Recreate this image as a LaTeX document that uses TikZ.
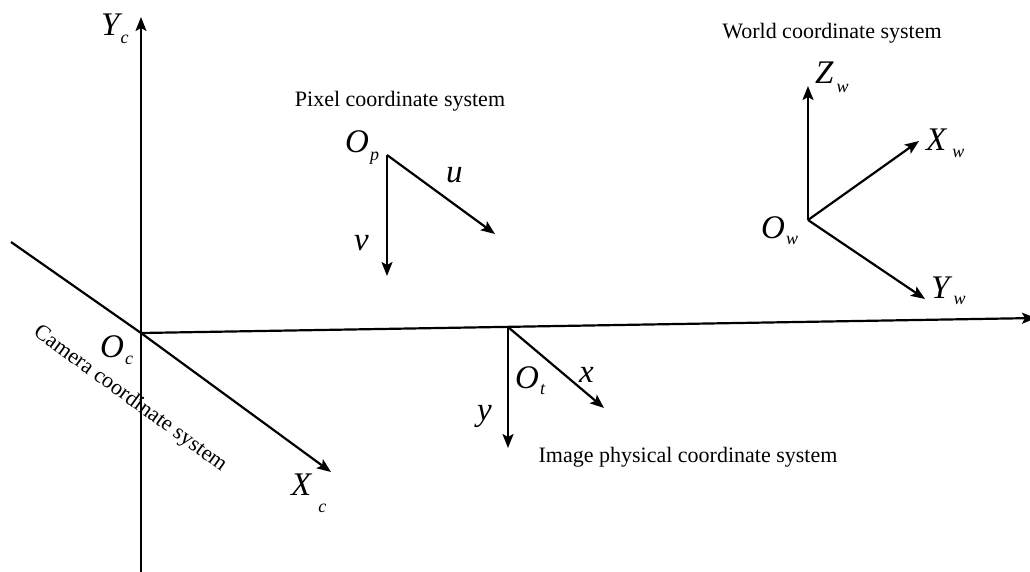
\documentclass[tikz,border=0pt]{standalone}
\usepackage{fontspec}
\setmainfont{Liberation Serif}
\usetikzlibrary{arrows.meta,positioning}
\newcommand{\axsub}[3][9pt]{#2\kern1pt\raisebox{-#1}{\fontsize{18}{18}\selectfont #3}}
\tikzset{
  axis/.style={draw=black, line width=2.2pt, -{Stealth[length=14pt,width=11pt,inset=3pt]}},
  plain/.style={draw=black, line width=2.2pt},
  lbl/.style={font=\fontsize{33}{33}\selectfont\itshape, inner sep=0pt, anchor=base west},
  sysname/.style={font=\fontsize{22}{22}\selectfont, inner sep=0pt},
}
\begin{document}
\begin{tikzpicture}[x=1pt,y=-1pt]
  \useasboundingbox (0,0) rectangle (1030,571);
  % camera frame
  \coordinate (oc) at (141,333);
  \coordinate (yc) at (141,17);
  \coordinate (ycend) at (141,575);
  \coordinate (xc) at (331,472);
  \coordinate (xcend) at (11,242);
  \coordinate (zc) at (1036,318);
  \draw[plain] (oc) -- (ycend);
  \draw[plain] (xcend) -- (oc);
  \draw[axis] (oc) -- (yc);
  \draw[axis] (oc) -- (xc);
  \draw[axis] (oc) -- (zc);
  \node[lbl] (yclbl) at (101,35) {\axsub[8pt]{Y}{c}};
  \node[lbl] (oclbl) at (100,357) {\axsub[7pt]{O}{c}};
  \node[lbl] (xclbl) at (291,495) {\axsub[17pt]{X\kern6pt}{c}};
  \node[sysname, rotate=-36] (camname) at (130,399) {Camera coordinate system};
  % pixel frame
  \coordinate (op) at (387,155);
  \coordinate (pu) at (495,234);
  \coordinate (pv) at (387,276);
  \draw[axis] (op) -- (pu);
  \draw[axis] (op) -- (pv);
  \node[lbl] (oplbl) at (345,152) {\axsub[8pt]{O}{p}};
  \node[lbl] (ulbl) at (446,182) {u};
  \node[lbl] (vlbl) at (354,250) {v};
  \node[sysname] (pixname) at (400,101) {Pixel coordinate system};
  % image physical frame
  \coordinate (ot) at (508,327);
  \coordinate (ix) at (604,408);
  \coordinate (iy) at (508,448);
  \draw[axis] (ot) -- (ix);
  \draw[axis] (ot) -- (iy);
  \node[lbl] (otlbl) at (515,388) {\axsub[6pt]{O}{t}};
  \node[lbl] (xlbl) at (579,382) {x};
  \node[lbl] (ylbl) at (477,420) {y};
  \node[sysname] (imgname) at (688,457) {Image physical coordinate system};
  % world frame
  \coordinate (ow) at (808,220);
  \coordinate (zw) at (808,86);
  \coordinate (xw) at (919,141);
  \coordinate (yw) at (925,299);
  \draw[axis] (ow) -- (zw);
  \draw[axis] (ow) -- (xw);
  \draw[axis] (ow) -- (yw);
  \node[lbl] (zwlbl) at (815,83) {\axsub[9pt]{Z\kern2pt}{w}};
  \node[lbl] (xwlbl) at (926,150) {\axsub[7pt]{X\kern5pt}{w}};
  \node[lbl] (owlbl) at (761,238) {\axsub[6pt]{O}{w}};
  \node[lbl] (ywlbl) at (931,298) {\axsub[6pt]{Y\kern3pt}{w}};
  \node[sysname] (worldname) at (832,33) {World coordinate system};
\end{tikzpicture}
\end{document}
